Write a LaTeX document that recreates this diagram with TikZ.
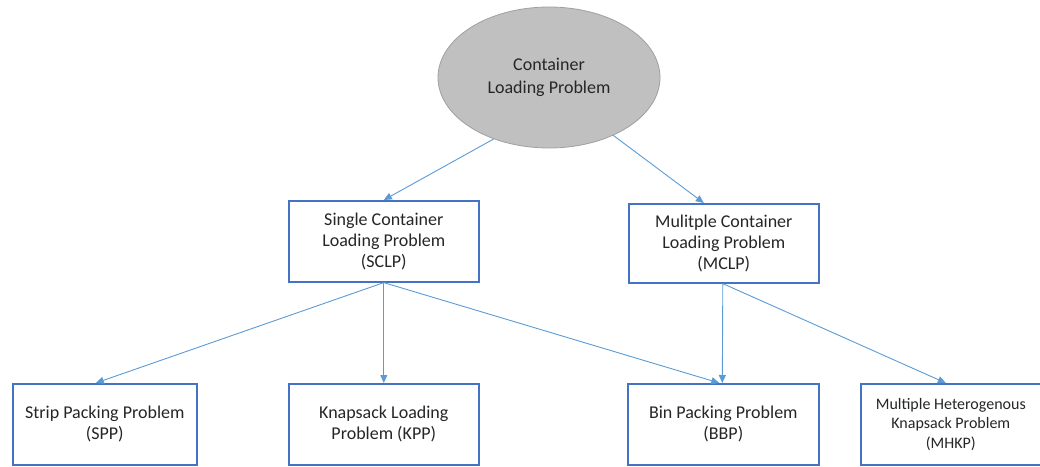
\documentclass[tikz,border=0pt]{standalone}
\usepackage{fontspec}
\setmainfont{Carlito}
\usetikzlibrary{arrows.meta,shapes.geometric}
\definecolor{boxblue}{HTML}{4472C4}
\definecolor{arrowblue}{HTML}{5B9BD5}
\definecolor{ellfill}{HTML}{C0C0C0}
\definecolor{ellline}{HTML}{A0A0A0}
\definecolor{txt}{HTML}{262626}
\begin{document}
\begin{tikzpicture}[x=1pt,y=-1pt,
  probbox/.style={draw=boxblue,line width=1.6pt,fill=white,minimum width=#1,
    align=center,text=txt,font=\fontsize{18}{21}\selectfont,inner sep=0pt,
    anchor=north west},
  link/.style={draw=arrowblue,line width=0.9pt,-{Triangle[length=8pt,width=7pt]}}]
\useasboundingbox (0,0) rectangle (1040,466);
% root
\node[ellipse,draw=ellline,fill=ellfill,line width=0.8pt,minimum width=222pt,
  minimum height=141pt,inner sep=0pt,text=txt,align=center,
  font=\fontsize{18}{23}\selectfont] (clp) at (549,77.5) {Container\\Loading Problem};
% second level
\node[probbox=190pt,minimum height=81pt] (sclp) at (288,200) {Single Container\\Loading Problem\\(SCLP)};
\node[probbox=190pt,minimum height=79pt] (mclp) at (628,203) {Mulitple Container\\Loading Problem\\(MCLP)};
% third level
\node[probbox=184pt,minimum height=81pt] (spp) at (12,383) {Strip Packing Problem\\(SPP)};
\node[probbox=190pt,minimum height=81pt] (kpp) at (288,383) {Knapsack Loading\\Problem (KPP)};
\node[probbox=191pt,minimum height=81pt] (bbp) at (627,383) {Bin Packing Problem\\(BBP)};
\node[probbox=180pt,minimum height=81pt,font=\fontsize{16}{19.5}\selectfont] (mhkp) at (860,383) {Multiple Heterogenous\\Knapsack Problem\\(MHKP)};
% connectors
\coordinate (sbot) at (sclp.south);
\coordinate (mbot) at ([xshift=-1pt]mclp.south);
\draw[link] (clp.-132) -- (sclp.north);
\draw[link] (clp.-42) -- ([xshift=-20pt]mclp.north);
\draw[link] (sbot) -- ([xshift=-9pt]spp.north);
\draw[link] (sbot) -- (kpp.north);
\draw[link] (sbot) -- ([xshift=-4pt]bbp.north);
\draw[link] (mbot) -- ([xshift=-1pt]bbp.north);
\draw[link] (mbot) -- ([xshift=-5pt]mhkp.north);
\end{tikzpicture}
\end{document}
